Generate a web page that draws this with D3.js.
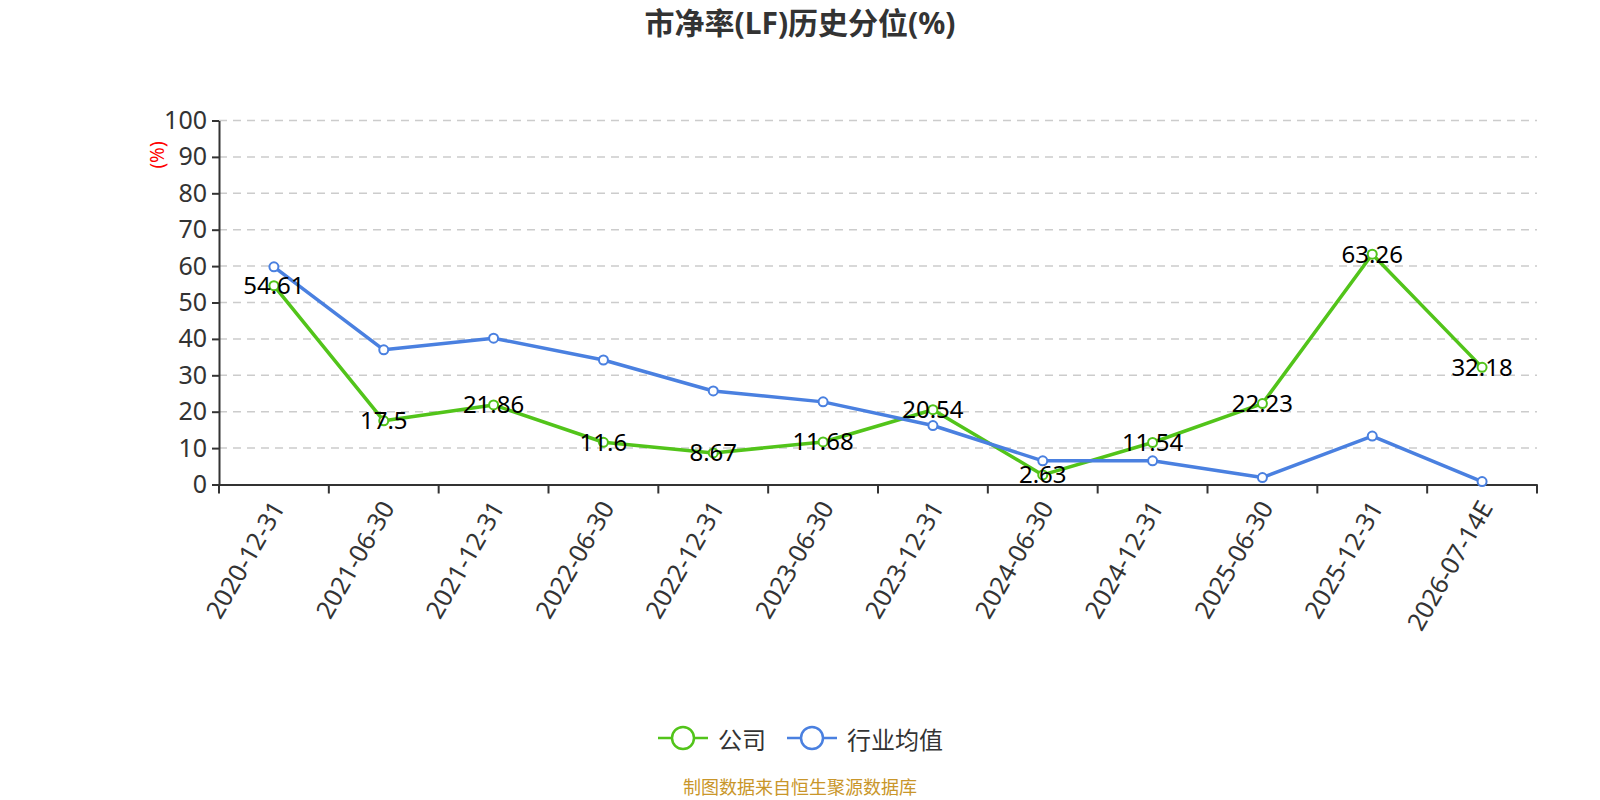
<!DOCTYPE html>
<html>
<head>
<meta charset="utf-8">
<script src="https://cdn.jsdelivr.net/npm/d3@7"></script>
<style>
html,body{margin:0;padding:0;background:#fff;}
svg{display:block;font-family:"Noto Sans","Noto Sans CJK SC",sans-serif;}
</style>
</head>
<body>
<svg id="chart" width="1600" height="800"></svg>
<script>
const categories = ["2020-12-31","2021-06-30","2021-12-31","2022-06-30","2022-12-31","2023-06-30","2023-12-31","2024-06-30","2024-12-31","2025-06-30","2025-12-31","2026-07-14E"];
const companyValues = [54.61,17.5,21.86,11.6,8.67,11.68,20.54,2.63,11.54,22.23,63.26,32.18];
const industryValues = [59.8,37.0,40.2,34.2,25.7,22.7,16.2,6.5,6.5,1.9,13.3,0.8];
const yTicks = [0,10,20,30,40,50,60,70,80,90,100];
const seriesNames = ["公司","行业均值"];
const titleText = "市净率(LF)历史分位(%)";
const sourceText = "制图数据来自恒生聚源数据库";

(function(){
const colors = {company:"#52c41a", industry:"#4a80e0"};
const svg = d3.select("#chart");
const gLeft = 219, gRight = 1537, gTop = 120.5, gBottom = 484.5;

const x = d3.scaleBand().domain(categories).range([gLeft, gRight]);
const y = d3.scaleLinear().domain([0,100]).range([gBottom, gTop]);
const cx = d => x(d) + x.bandwidth()/2;

// title
svg.append("text").attr("x",800).attr("y",22).attr("text-anchor","middle")
  .attr("dominant-baseline","central").attr("font-size",30).attr("font-weight","bold")
  .attr("fill","#333").text(titleText);

// grid
svg.append("g").selectAll("line").data(yTicks.filter(t=>t>0)).join("line")
  .attr("x1",gLeft).attr("x2",gRight).attr("y1",d=>y(d)).attr("y2",d=>y(d))
  .attr("stroke","#ccc").attr("stroke-width",1.5).attr("stroke-dasharray","8,6");

// y axis
const yAxis = svg.append("g").attr("transform",`translate(${gLeft},0)`)
  .call(d3.axisLeft(y).tickValues(yTicks).tickSize(7).tickSizeOuter(0).tickPadding(5));
yAxis.select(".domain").attr("stroke","#333").attr("stroke-width",2);
yAxis.selectAll(".tick line").attr("stroke","#333").attr("stroke-width",2);
yAxis.selectAll(".tick text").attr("font-size",25).attr("fill","#333").attr("font-family","'Noto Sans',sans-serif");

// y unit label
svg.append("text").attr("transform","translate(157,155) rotate(-90)")
  .attr("text-anchor","middle").attr("dominant-baseline","central")
  .attr("font-size",19).attr("fill","#ff0000").text("(%)");

// x axis
const xAxis = svg.append("g").attr("transform",`translate(0,${gBottom})`)
  .call(d3.axisBottom(x).tickSize(0).tickSizeOuter(0));
xAxis.select(".domain").attr("stroke","#333").attr("stroke-width",2);
xAxis.selectAll(".tick text").remove();
const bounds = categories.map(c=>x(c)).concat([gRight]);
svg.append("g").selectAll("line").data(bounds).join("line")
  .attr("x1",d=>d).attr("x2",d=>d).attr("y1",gBottom).attr("y2",gBottom+9)
  .attr("stroke","#333").attr("stroke-width",2);
svg.append("g").selectAll("text").data(categories).join("text")
  .attr("transform",d=>`translate(${cx(d)+3},${gBottom+18}) rotate(-60)`)
  .attr("text-anchor","end").attr("dominant-baseline","central")
  .attr("font-size",25).attr("fill","#333").text(d=>d);

// lines
const line = d3.line().x(d=>cx(d.c)).y(d=>y(d.v));
const mk = vals => categories.map((c,i)=>({c, v: vals[i]}));
const indData = mk(industryValues), comData = mk(companyValues);

svg.append("path").datum(comData).attr("d",line).attr("fill","none")
  .attr("stroke",colors.company).attr("stroke-width",3.5).attr("stroke-linejoin","round");
svg.append("path").datum(indData).attr("d",line).attr("fill","none")
  .attr("stroke",colors.industry).attr("stroke-width",3.5).attr("stroke-linejoin","round");

svg.append("g").selectAll("circle").data(comData).join("circle")
  .attr("cx",d=>cx(d.c)).attr("cy",d=>y(d.v)).attr("r",4.5)
  .attr("fill","#fff").attr("stroke",colors.company).attr("stroke-width",2);
svg.append("g").selectAll("circle").data(indData).join("circle")
  .attr("cx",d=>cx(d.c)).attr("cy",d=>y(d.v)).attr("r",4.5)
  .attr("fill","#fff").attr("stroke",colors.industry).attr("stroke-width",2);

// labels
svg.append("g").selectAll("text").data(comData).join("text")
  .attr("x",d=>cx(d.c)).attr("y",d=>y(d.v)-1).attr("text-anchor","middle")
  .attr("dominant-baseline","central").attr("font-size",24).attr("fill","#000")
  .text(d=>d.v);

// legend
const legend = [
  {name:seriesNames[0], color:colors.company, x0:658, tx:718},
  {name:seriesNames[1], color:colors.industry, x0:787, tx:847}
];
const lg = svg.append("g");
legend.forEach(l=>{
  lg.append("line").attr("x1",l.x0).attr("x2",l.x0+50).attr("y1",738).attr("y2",738)
    .attr("stroke",l.color).attr("stroke-width",2.5);
  lg.append("circle").attr("cx",l.x0+25).attr("cy",738).attr("r",11)
    .attr("fill","#fff").attr("stroke",l.color).attr("stroke-width",2.5);
  lg.append("text").attr("x",l.tx).attr("y",738).attr("dominant-baseline","central")
    .attr("font-size",24).attr("fill","#333").attr("font-family","'Noto Sans CJK SC',sans-serif").text(l.name);
});

// source
svg.append("text").attr("x",800).attr("y",786).attr("text-anchor","middle")
  .attr("dominant-baseline","central").attr("font-size",18).attr("fill","#c9962a")
  .attr("font-family","'Noto Sans CJK SC',sans-serif").text(sourceText);
})();
</script>
</body>
</html>
